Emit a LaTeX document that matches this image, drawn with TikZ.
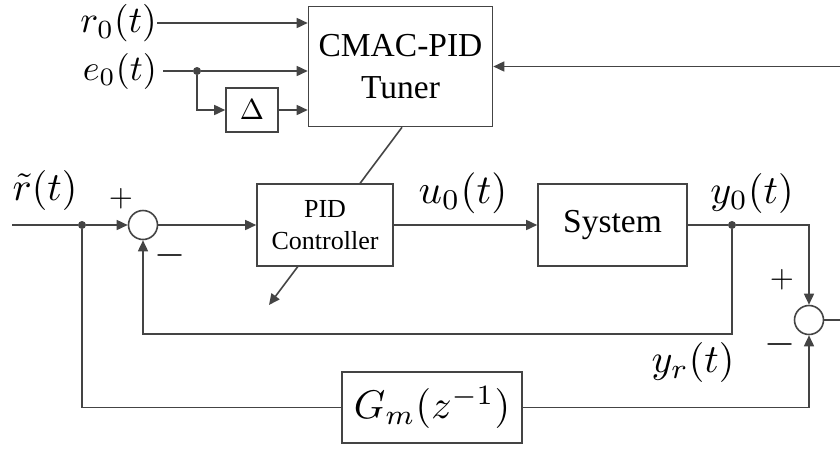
\documentclass[tikz,border=0pt]{standalone}
\usepackage{graphicx}
\usepackage[no-math]{fontspec}
\setmainfont{Liberation Serif}
\usetikzlibrary{arrows.meta,calc}
\definecolor{ink}{HTML}{444444}
% math set at 10pt and enlarged, so the CM math fonts keep their design size
\newcommand{\sizedmath}[2]{\scalebox{#1}{\fontsize{10}{12}\selectfont$#2$}}
\tikzset{
  wire/.style={draw=ink, line width=1.6pt},
  sig/.style={wire, -{Triangle[length=11pt,width=10pt]}},
  block/.style={draw=ink, line width=1.6pt, fill=white, inner sep=0pt, align=center},
  junction/.style={circle, fill=ink, inner sep=0pt, minimum size=8pt},
  summer/.style={circle, draw=ink, line width=1.6pt, fill=white, minimum size=29pt, inner sep=0pt},
  lbl/.style={inner sep=0pt},
  toplbl/.style={inner sep=0pt, anchor=east},
}
\begin{document}
\begin{tikzpicture}[x=1pt,y=-1pt]
\useasboundingbox (0,0) rectangle (840,448);

% tuner and its inputs
\node[block, minimum width=184pt, minimum height=120pt,
      font=\fontsize{33.5}{42}\selectfont] (tuner) at (400.5,66.5) {CMAC-PID\\Tuner};
\node[toplbl] (r0) at (157,23) {\sizedmath{3.75}{r_0(t)}};
\draw[sig] (r0.east) -- (r0.east -| tuner.west);
\node[toplbl] (e0) at (157,71) {\sizedmath{3.6}{e_0(t)}};
\node[junction] (j3) at (197,71) {};
\draw[wire] ($(e0.east)+(6,0)$) -- (j3);
\draw[sig] (j3) -- (j3 -| tuner.west);
\node[block, minimum width=52pt, minimum height=44pt] (delta) at (252,110) {\sizedmath{2.9}{\Delta}};
\draw[sig] (j3) |- (delta);
\draw[sig] (delta) -- (delta -| tuner.west);
\coordinate (fbin) at (840,66.5);
\draw[sig] (fbin) -- (tuner);

% adjustment arrow across the controller
\coordinate (tip) at (269,305);
\draw[sig] ($(tuner.south)+(1.5,0)$) -- (tip);

% main loop
\coordinate (in) at (12,225);
\node[junction] (j1) at (82,225) {};
\node[summer] (s1) at (143,225) {};
\node[block, minimum width=136pt, minimum height=82pt,
      font=\fontsize{26}{32}\selectfont] (pid) at (325,225) {PID\\Controller};
\node[block, minimum width=149pt, minimum height=82pt,
      font=\fontsize{33.5}{40}\selectfont] (sys) at (612.5,225) {System};
\node[junction] (j2) at (732,225) {};
\node[summer] (s2) at (809,320) {};
\node[block, minimum width=180pt, minimum height=71pt] (gm) at (432,407.5) {\sizedmath{4.0}{G_m(z^{-1})}};
\coordinate (fb) at (732,334);
\coordinate (out) at (840,320);

\draw[wire] (in) -- (j1);
\draw[sig] (j1) -- (s1);
\draw[sig] (s1) -- (pid);
\draw[sig] (pid) -- (sys);
\draw[wire] (sys) -- (j2);
\draw[sig] (j2) -| (s2);
\draw[sig] (j2) -- (fb) -| (s1);
\draw[wire] (j1) |- (gm);
\draw[sig] (gm) -| (s2);
\draw[wire] (s2) -- (out);

% signal labels
\node[lbl] (rt) at (45,190) {\sizedmath{4.0}{\tilde r(t)}};
\node[lbl] (u0) at (463,193) {\sizedmath{4.1}{u_0(t)}};
\node[lbl] (y0) at (752,193) {\sizedmath{4.0}{y_0(t)}};
\node[lbl] (yr) at (693,362) {\sizedmath{4.0}{y_r(t)}};

% summing junction signs
\node[lbl] (p1) at (121,199) {\sizedmath{3.1}{+}};
\node[lbl] (m1) at (170,255) {\sizedmath{4.0}{-}};
\node[lbl] (p2) at (782,280) {\sizedmath{3.1}{+}};
\node[lbl] (m2) at (780,344) {\sizedmath{4.0}{-}};
\end{tikzpicture}
\end{document}
